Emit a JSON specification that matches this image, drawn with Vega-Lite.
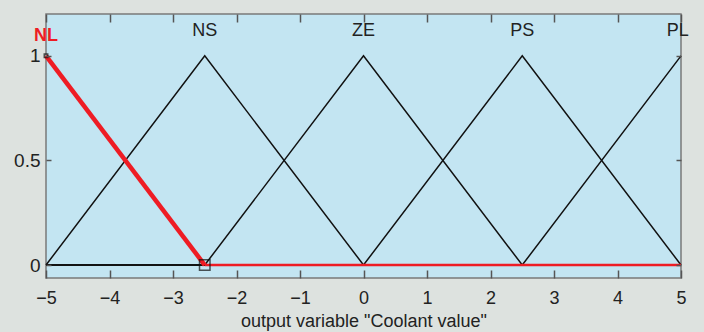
{
  "$schema": "https://vega.github.io/schema/vega-lite/v6.json",
  "width": 635,
  "height": 264,
  "autosize": {"type": "none"},
  "padding": {"left": 46, "top": 14, "right": 23, "bottom": 54},
  "background": "#dde2df",
  "config": {
    "view": {"fill": "#c3e5f2", "stroke": "#7a7a7a", "strokeWidth": 1.5},
    "font": "Liberation Sans"
  },
  "datasets": {
    "mf": [
      {"set": "NS", "x": -5, "y": 0}, {"set": "NS", "x": -2.5, "y": 1}, {"set": "NS", "x": 0, "y": 0}, {"set": "NS", "x": 5, "y": 0},
      {"set": "ZE", "x": -5, "y": 0}, {"set": "ZE", "x": -2.5, "y": 0}, {"set": "ZE", "x": 0, "y": 1}, {"set": "ZE", "x": 2.5, "y": 0}, {"set": "ZE", "x": 5, "y": 0},
      {"set": "PS", "x": -5, "y": 0}, {"set": "PS", "x": 0, "y": 0}, {"set": "PS", "x": 2.5, "y": 1}, {"set": "PS", "x": 5, "y": 0},
      {"set": "PL", "x": -5, "y": 0}, {"set": "PL", "x": 2.5, "y": 0}, {"set": "PL", "x": 5, "y": 1}
    ],
    "nl": [
      {"part": "slope", "x": -5, "y": 1}, {"part": "slope", "x": -2.5, "y": 0},
      {"part": "flat", "x": -2.5, "y": 0}, {"part": "flat", "x": 5, "y": 0}
    ],
    "marks": [
      {"x": -2.5, "y": 0, "s": 110},
      {"x": -5, "y": 1, "s": 12}
    ],
    "labels": [
      {"label": "NL", "x": -5, "y": 1.096, "kind": "sel"},
      {"label": "NS", "x": -2.5, "y": 1.12, "kind": "other"},
      {"label": "ZE", "x": 0, "y": 1.12, "kind": "other"},
      {"label": "PS", "x": 2.5, "y": 1.12, "kind": "other"},
      {"label": "PL", "x": 4.95, "y": 1.12, "kind": "other"}
    ]
  },
  "resolve": {"axis": {"x": "independent", "y": "independent"}},
  "layer": [
    {
      "data": {"name": "mf"},
      "mark": {"type": "line", "color": "#111111", "strokeWidth": 1.5},
      "encoding": {
        "x": {"field": "x", "type": "quantitative", "scale": {"domain": [-5, 5], "nice": false},
              "axis": {"orient": "bottom", "zindex": 2, "grid": false, "domain": false, "ticks": true, "tickColor": "#555555", "tickWidth": 1.5, "labelFlush": false, "labelOverlap": false, "labelColor": "#222222", "titleColor": "#222222", "values": [-5, -4, -3, -2, -1, 0, 1, 2, 3, 4, 5], "format": "~g", "offset": -8, "tickSize": 8, "labelFontSize": 18, "labelPadding": 11, "title": "output variable \"Coolant value\"", "titleFontSize": 18, "titleFontWeight": "normal", "titlePadding": 5}},
        "y": {"field": "y", "type": "quantitative", "scale": {"domain": [-0.062, 1.2], "nice": false},
              "axis": {"orient": "left", "zindex": 2, "grid": false, "domain": false, "ticks": true, "tickColor": "#555555", "tickWidth": 1.5, "labelFlush": false, "labelColor": "#222222", "values": [0, 0.5, 1], "format": "~g", "offset": -5, "tickSize": 5, "labelFontSize": 19, "labelPadding": 6, "title": null}},
        "detail": {"field": "set"}
      }
    },
    {
      "data": {"name": "nl"},
      "transform": [{"filter": "datum.part === 'slope'"}],
      "mark": {"type": "line", "color": "#ee1c24", "strokeWidth": 4.5},
      "encoding": {
        "x": {"field": "x", "type": "quantitative", "axis": {"orient": "top", "zindex": 2, "grid": false, "domain": false, "ticks": true, "tickColor": "#555555", "tickWidth": 1.5, "values": [-5, -4, -3, -2, -1, 0, 1, 2, 3, 4, 5], "offset": -8, "tickSize": 8, "labels": false, "title": null}},
        "y": {"field": "y", "type": "quantitative", "axis": {"orient": "right", "zindex": 2, "grid": false, "domain": false, "ticks": true, "tickColor": "#555555", "tickWidth": 1.5, "values": [0, 0.5, 1], "offset": -5, "tickSize": 5, "labels": false, "title": null}}
      }
    },
    {
      "data": {"name": "nl"},
      "transform": [{"filter": "datum.part === 'flat'"}],
      "mark": {"type": "line", "color": "#ee1c24", "strokeWidth": 2.5},
      "encoding": {
        "x": {"field": "x", "type": "quantitative", "axis": null},
        "y": {"field": "y", "type": "quantitative", "axis": null}
      }
    },
    {
      "data": {"name": "marks"},
      "mark": {"type": "point", "shape": "square", "filled": false, "color": "#111111", "strokeWidth": 1.5},
      "encoding": {
        "x": {"field": "x", "type": "quantitative", "axis": null},
        "y": {"field": "y", "type": "quantitative", "axis": null},
        "size": {"field": "s", "type": "quantitative", "scale": null, "legend": null}
      }
    },
    {
      "data": {"name": "labels"},
      "transform": [{"filter": "datum.kind === 'sel'"}],
      "mark": {"type": "text", "fontSize": 18, "fontWeight": "bold", "color": "#ee1c24", "baseline": "middle", "align": "center"},
      "encoding": {
        "x": {"field": "x", "type": "quantitative", "axis": null},
        "y": {"field": "y", "type": "quantitative", "axis": null},
        "text": {"field": "label"}
      }
    },
    {
      "data": {"name": "labels"},
      "transform": [{"filter": "datum.kind === 'other'"}],
      "mark": {"type": "text", "fontSize": 18, "color": "#222222", "baseline": "middle", "align": "center"},
      "encoding": {
        "x": {"field": "x", "type": "quantitative", "axis": null},
        "y": {"field": "y", "type": "quantitative", "axis": null},
        "text": {"field": "label"}
      }
    }
  ]
}
